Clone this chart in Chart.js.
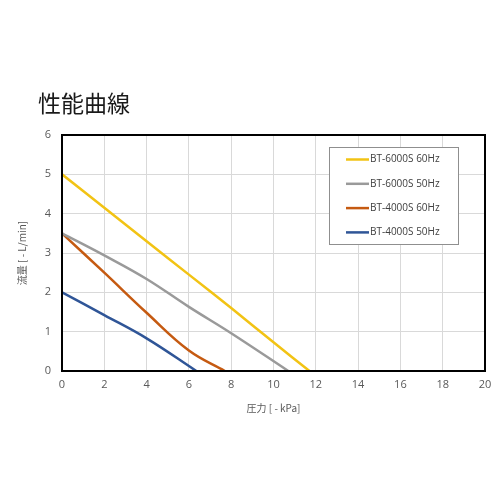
<!DOCTYPE html>
<html>
<head>
<meta charset="utf-8">
<script src="https://cdn.jsdelivr.net/npm/chart.js@4.4.0/dist/chart.umd.min.js"></script>
<style>
    body { margin: 0; background: #ffffff; }
    #wrap { position: relative; width: 500px; height: 500px; }
    #title {
        position: absolute; left: 38px; top: 87px;
        font-family: "Noto Sans CJK JP", "Noto Sans", sans-serif;
        font-size: 23px; line-height: 30px; color: #1a1a1a;
    }
</style>
</head>
<body>
<div id="wrap">
    <canvas id="perfChart"></canvas>
    <div id="title">性能曲線</div>
</div>
<script>
// Performance curves - pressure (kPa) vs flow (L/min)

const seriesLabels = ['BT-6000S 60Hz', 'BT-6000S 50Hz', 'BT-4000S 60Hz', 'BT-4000S 50Hz'];
const seriesColors = ['#f2c314', '#9a9a9a', '#c55a11', '#2f5597'];

const pressure6000s60 = [0, 2, 4, 6, 8, 10, 11.7];
const flow6000s60 = [5, 4.15, 3.3, 2.45, 1.6, 0.73, 0];

const pressure6000s50 = [0, 2, 4, 6, 8, 10.7];
const flow6000s50 = [3.5, 2.94, 2.34, 1.63, 0.96, 0];

const pressure4000s60 = [0, 2, 4, 6, 7.7];
const flow4000s60 = [3.5, 2.5, 1.48, 0.52, 0];

const pressure4000s50 = [0, 2, 4, 6.35];
const flow4000s50 = [2, 1.42, 0.83, 0];

const xTicks = [0, 2, 4, 6, 8, 10, 12, 14, 16, 18, 20];
const yTicks = [0, 1, 2, 3, 4, 5, 6];

const xTitle = '圧力 [ - kPa]';
const yTitle = '流量 [ - L/min]';

function toPoints(xs, ys) {
    return xs.map((x, i) => ({ x: x, y: ys[i] }));
}

const seriesData = [
    toPoints(pressure6000s60, flow6000s60),
    toPoints(pressure6000s50, flow6000s50),
    toPoints(pressure4000s60, flow4000s60),
    toPoints(pressure4000s50, flow4000s50)
];

const tickFont = { family: '"Open Sans", "Noto Sans", sans-serif', size: 11 };
const axisTitleFont = { family: '"Noto Sans CJK JP", "Noto Sans", sans-serif', size: 10 };

// black frame around the plot area
const plotBorder = {
    id: 'plotBorder',
    afterDatasetsDraw(chart) {
        const { ctx, chartArea: a } = chart;
        ctx.save();
        ctx.strokeStyle = '#000000';
        ctx.lineWidth = 2;
        ctx.strokeRect(a.left, a.top, a.right - a.left, a.bottom - a.top);
        ctx.restore();
    }
};

// boxed legend inside the plot area
const boxLegend = {
    id: 'boxLegend',
    afterDraw(chart) {
        const ctx = chart.ctx;
        const box = { x: 329, y: 147, w: 129, h: 97 };
        ctx.save();
        ctx.fillStyle = '#ffffff';
        ctx.fillRect(box.x, box.y, box.w, box.h);
        ctx.strokeStyle = '#8f8f8f';
        ctx.lineWidth = 1;
        ctx.strokeRect(box.x + 0.5, box.y + 0.5, box.w, box.h);
        ctx.font = '10px "Open Sans", "Noto Sans", sans-serif';
        ctx.textBaseline = 'middle';
        chart.data.datasets.forEach((ds, i) => {
            const rowY = box.y + 12.5 + i * 24.3;
            ctx.strokeStyle = ds.borderColor;
            ctx.lineWidth = 2.5;
            ctx.beginPath();
            ctx.moveTo(box.x + 17, rowY);
            ctx.lineTo(box.x + 40, rowY);
            ctx.stroke();
            ctx.fillStyle = '#404040';
            ctx.fillText(ds.label, box.x + 41, rowY);
        });
        ctx.restore();
    }
};

const ctx = document.getElementById('perfChart');

new Chart(ctx, {
    type: 'line',
    data: {
        datasets: seriesData.map((pts, i) => ({
            label: seriesLabels[i],
            data: pts,
            borderColor: seriesColors[i],
            backgroundColor: seriesColors[i],
            borderWidth: 2.5,
            fill: false,
            pointRadius: 0,
            tension: 0.4
        }))
    },
    options: {
        responsive: true,
        maintainAspectRatio: false,
        animation: false,
        layout: {
            padding: { left: 0, right: 15, top: 135, bottom: 79 }
        },
        plugins: {
            legend: { display: false },
            tooltip: { enabled: false }
        },
        scales: {
            x: {
                type: 'linear',
                min: 0,
                max: 20,
                afterFit: function(scale) { scale.height = 50; },
                afterBuildTicks: function(scale) { scale.ticks = xTicks.map(v => ({ value: v })); },
                ticks: { color: '#595959', font: tickFont, padding: 7, maxRotation: 0 },
                grid: { color: '#d9d9d9', lineWidth: 1, drawTicks: false },
                border: { display: false },
                title: {
                    display: true,
                    text: xTitle,
                    color: '#595959',
                    font: axisTitleFont,
                    padding: { top: 0, bottom: 7 }
                }
            },
            y: {
                type: 'linear',
                min: 0,
                max: 6,
                afterFit: function(scale) { scale.width = 62; },
                afterBuildTicks: function(scale) { scale.ticks = yTicks.map(v => ({ value: v })); },
                ticks: { color: '#595959', font: tickFont, padding: 11 },
                grid: { color: '#d9d9d9', lineWidth: 1, drawTicks: false },
                border: { display: false },
                title: {
                    display: true,
                    text: yTitle,
                    color: '#595959',
                    font: axisTitleFont,
                    padding: { top: 16, bottom: 0 }
                }
            }
        }
    },
    plugins: [plotBorder, boxLegend]
});
</script>
</body>
</html>
